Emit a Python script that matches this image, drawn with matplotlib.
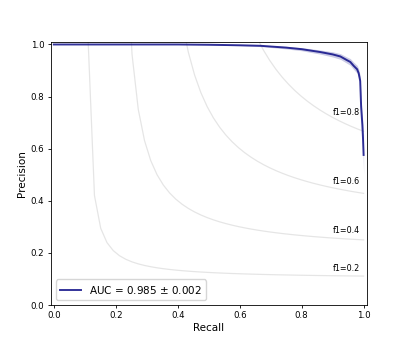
import numpy as np
from matplotlib import pyplot as plt

# mean precision-recall curve
recall = [0.0, 0.1, 0.2, 0.3, 0.4, 0.5, 0.6, 0.667, 0.75, 0.8, 0.86, 0.9,
          0.925, 0.946, 0.957, 0.968, 0.979, 0.984, 0.989, 0.992, 0.996,
          0.998, 1.0]
precision = [1.0, 1.0, 1.0, 1.0, 1.0, 0.999, 0.997, 0.995, 0.988, 0.982,
             0.971, 0.962, 0.954, 0.94, 0.933, 0.918, 0.905, 0.89, 0.86,
             0.76, 0.69, 0.64, 0.576]
precision_std = [0.0, 0.0, 0.0, 0.0, 0.0, 0.001, 0.002, 0.003, 0.005, 0.006,
                 0.008, 0.01, 0.011, 0.012, 0.013, 0.014, 0.015, 0.017, 0.02,
                 0.03, 0.04, 0.05, 0.076]
auc_mean = 0.985
auc_std = 0.002
f_scores = [0.2, 0.4, 0.6, 0.8]

recall = np.array(recall)
precision = np.array(precision)
precision_std = np.array(precision_std)

fig = plt.figure(figsize=(4.07, 3.49), dpi=100)
ax = fig.add_axes([0.1246, 0.126, 0.7764, 0.754])

# iso-f1 reference curves
for f in f_scores:
    x = np.linspace(0.01, 1)
    y = f * x / (2 * x - f)
    ax.plot(x[y >= 0], y[y >= 0], color='gray', alpha=0.2, lw=0.9)
    ax.annotate('f1={0:0.1f}'.format(f), xy=(0.9, y[45] + 0.02), fontsize=5.8)

upper = np.minimum(precision + precision_std, 1)
lower = np.maximum(precision - precision_std, 0)
ax.fill_between(recall, lower, upper, color='navy', alpha=0.2, lw=0)
ax.plot(recall, precision, color='navy', alpha=0.8, lw=1.4,
        label='AUC = %0.3f $\\pm$ %0.3f' % (auc_mean, auc_std))

ax.set_xlim([-0.01, 1.01])
ax.set_ylim([0.0, 1.01])
ax.set_xticks([0, 0.2, 0.4, 0.6, 0.8, 1.0])
ax.set_yticks([0, 0.2, 0.4, 0.6, 0.8, 1.0])
ax.set_xlabel('Recall', fontsize=7.5, labelpad=2)
ax.set_ylabel('Precision', fontsize=7.5, labelpad=3)
ax.tick_params(labelsize=6.2, length=2.5, width=0.6, pad=2)
for s in ax.spines.values():
    s.set_linewidth(0.6)
ax.legend(loc='lower left', fontsize=7.5)

fig.savefig('out.png', dpi=100)
